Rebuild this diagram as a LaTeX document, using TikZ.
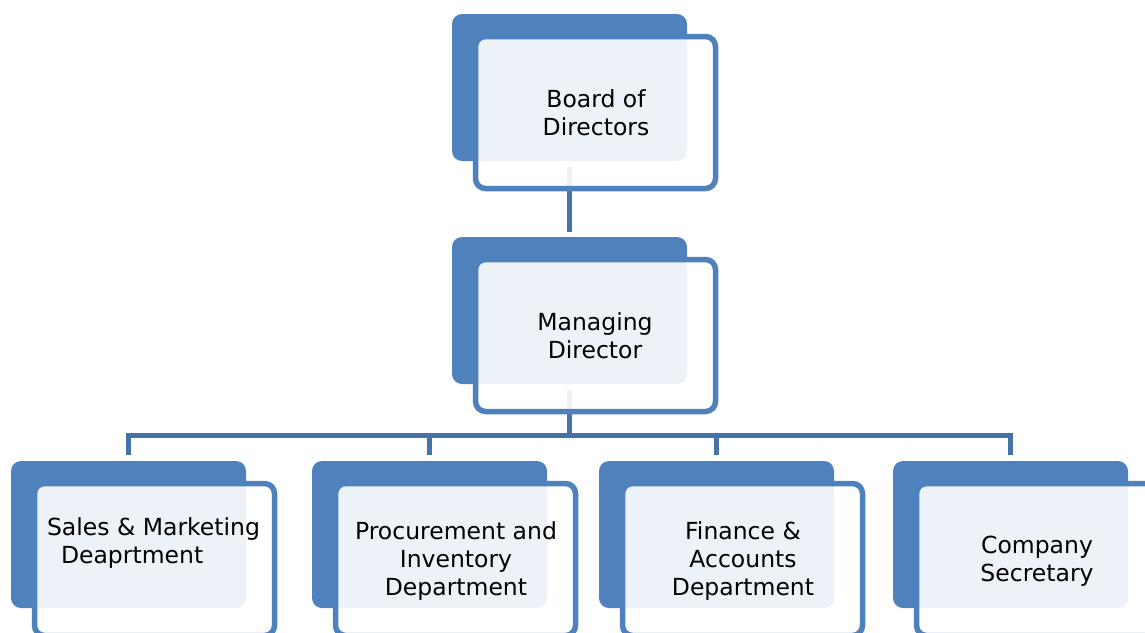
\documentclass[tikz,border=0pt]{standalone}
\usepackage{fontspec}
\setmainfont{DejaVu Sans}
\usetikzlibrary{calc,backgrounds}
\definecolor{boxblue}{HTML}{4F81BD}
\definecolor{linkblue}{HTML}{4672AA}
\tikzset{
  backbox/.style={fill=boxblue, rounded corners=10pt, minimum width=235pt, minimum height=147pt, inner sep=0pt, outer sep=0pt},
  framebox/.style={draw=boxblue, line width=5.5pt, fill=white, fill opacity=0.9, rounded corners=10pt, minimum width=240pt, minimum height=152pt, inner sep=0pt, outer sep=0pt},
  boxtext/.style={align=center, font=\fontsize{23.5}{28}\selectfont, text=black, inner sep=0pt},
  conn/.style={draw=linkblue, line width=5pt},
}
\begin{document}
\begin{tikzpicture}[x=1pt,y=-1pt]
\useasboundingbox (0,0) rectangle (1145,632);
\clip (0,0) rectangle (1145,632);
% Board of Directors
\node[backbox] (bodb) at (569.5,87.5) {};
\node[framebox] (bodf) at (595.5,112.5) {};
\node[boxtext] (bod) at (596,112.5) {Board of\\Directors};
% Managing Director
\node[backbox] (mdb) at (569.5,310.5) {};
\node[framebox] (mdf) at (595.5,335.5) {};
\node[boxtext] (md) at (595,335.5) {Managing\\Director};
% Sales
\node[backbox] (salesb) at (128.5,534.5) {};
\node[framebox] (salesf) at (154.5,559.5) {};
\node[boxtext, align=left] (sales) at (153.5,543) {Sales \& Marketing\\\hspace*{14pt}Deaprtment};
% Procurement
\node[backbox] (procb) at (429.5,534.5) {};
\node[framebox] (procf) at (455.5,559.5) {};
\node[boxtext] (proc) at (456,561.5) {Procurement and\\Inventory\\Department};
% Finance
\node[backbox] (finb) at (716.5,534.5) {};
\node[framebox] (finf) at (742.5,559.5) {};
\node[boxtext] (fin) at (743,561) {Finance \&\\Accounts\\Department};
% Company Secretary
\node[backbox] (secb) at (1010.5,534.5) {};
\node[framebox] (secf) at (1036.5,559.5) {};
\node[boxtext] (sec) at (1037,561) {Company\\Secretary};
% connectors
\begin{scope}[on background layer]
\coordinate (bus) at ($(mdb.south)+(0,51.5)$);
\draw[conn] ($(bodb.south)+(0,6)$) -- ($(mdb.north)+(0,-5)$);
\draw[conn] ($(mdb.south)+(0,6)$) -- (bus);
\draw[conn] ($(salesb.north)+(0,-6)$) |- (bus) -| ($(secb.north)+(0,-6)$);
\draw[conn] ($(procb.north)+(0,-6)$) -- (procb.north |- bus);
\draw[conn] ($(finb.north)+(0,-6)$) -- (finb.north |- bus);
\end{scope}
\end{tikzpicture}
\end{document}
